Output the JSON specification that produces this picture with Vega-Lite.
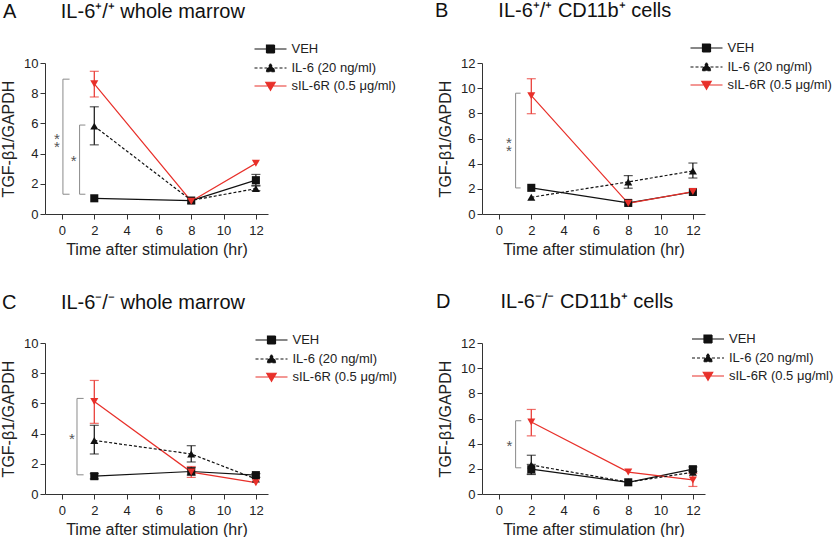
{
  "$schema": "https://vega.github.io/schema/vega-lite/v6.json",
  "padding": {"left": 0, "top": 0, "right": 0, "bottom": 0},
  "background": "white",
  "config": {
    "font": "Liberation Sans",
    "view": {"stroke": null},
    "axis": {"grid": false, "labelOverlap": false, "format": "d", "labelFontSize": 13, "titleFontSize": 16, "titleFontWeight": "normal", "tickSize": 5, "domainColor": "#333", "tickColor": "#333", "labelColor": "#222", "titleColor": "#222", "domainWidth": 1, "tickWidth": 1},
    "axisX": {"labelPadding": 5, "titlePadding": 4},
    "axisY": {"labelPadding": 2, "titlePadding": 7},
    "title": {"fontSize": 20, "fontWeight": "normal", "anchor": "start", "frame": "group", "color": "#111", "offset": 21},
    "legend": {"labelFontSize": 13, "labelColor": "#222", "symbolSize": 100, "rowPadding": 4, "labelOffset": 14.5, "padding": 0}
  },
  "datasets": {
    "all": [
      {"p":"A","k":"pt","s":"VEH","t":2,"v":1.04},
      {"p":"A","k":"pt","s":"VEH","t":8,"v":0.89},
      {"p":"A","k":"pt","s":"VEH","t":12,"v":2.24,"lo":1.9,"hi":2.62},
      {"p":"A","k":"pt","s":"IL-6 (20 ng/ml)","t":2,"v":5.82,"lo":4.58,"hi":7.1},
      {"p":"A","k":"pt","s":"IL-6 (20 ng/ml)","t":8,"v":0.9},
      {"p":"A","k":"pt","s":"IL-6 (20 ng/ml)","t":12,"v":1.68,"lo":1.55,"hi":1.85},
      {"p":"A","k":"pt","s":"sIL-6R (0.5 μg/ml)","t":2,"v":8.62,"lo":7.75,"hi":9.45},
      {"p":"A","k":"pt","s":"sIL-6R (0.5 μg/ml)","t":8,"v":0.85},
      {"p":"A","k":"pt","s":"sIL-6R (0.5 μg/ml)","t":12,"v":3.36},
      {"p":"A","k":"br","x":0.06,"x2":0.06,"y":1.31,"y2":8.93},
      {"p":"A","k":"br","x":0.06,"x2":0.47,"y":8.93,"y2":8.93},
      {"p":"A","k":"br","x":0.06,"x2":0.47,"y":1.31,"y2":1.31},
      {"p":"A","k":"br","x":1.09,"x2":1.09,"y":1.31,"y2":5.89},
      {"p":"A","k":"br","x":1.09,"x2":1.45,"y":5.89,"y2":5.89},
      {"p":"A","k":"br","x":1.09,"x2":1.45,"y":1.31,"y2":1.31},
      {"p":"A","k":"st","x":-0.31,"y":5.07,"lab":"*\n*"},
      {"p":"A","k":"st","x":0.72,"y":3.67,"lab":"*"},

      {"p":"B","k":"pt","s":"VEH","t":2,"v":2.08},
      {"p":"B","k":"pt","s":"VEH","t":8,"v":0.88},
      {"p":"B","k":"pt","s":"VEH","t":12,"v":1.75},
      {"p":"B","k":"pt","s":"IL-6 (20 ng/ml)","t":2,"v":1.33},
      {"p":"B","k":"pt","s":"IL-6 (20 ng/ml)","t":8,"v":2.55,"lo":2.05,"hi":3.05},
      {"p":"B","k":"pt","s":"IL-6 (20 ng/ml)","t":12,"v":3.42,"lo":2.86,"hi":4.05},
      {"p":"B","k":"pt","s":"sIL-6R (0.5 μg/ml)","t":2,"v":9.4,"lo":7.97,"hi":10.75},
      {"p":"B","k":"pt","s":"sIL-6R (0.5 μg/ml)","t":8,"v":0.85},
      {"p":"B","k":"pt","s":"sIL-6R (0.5 μg/ml)","t":12,"v":1.78},
      {"p":"B","k":"br","x":1.03,"x2":1.03,"y":2.07,"y2":9.6},
      {"p":"B","k":"br","x":1.03,"x2":1.34,"y":9.6,"y2":9.6},
      {"p":"B","k":"br","x":1.03,"x2":1.34,"y":2.07,"y2":2.07},
      {"p":"B","k":"st","x":0.62,"y":5.77,"lab":"*\n*"},

      {"p":"C","k":"pt","s":"VEH","t":2,"v":1.18,"lo":1.0,"hi":1.35},
      {"p":"C","k":"pt","s":"VEH","t":8,"v":1.49,"lo":1.25,"hi":1.75},
      {"p":"C","k":"pt","s":"VEH","t":12,"v":1.25,"lo":1.1,"hi":1.35},
      {"p":"C","k":"pt","s":"IL-6 (20 ng/ml)","t":2,"v":3.55,"lo":2.65,"hi":4.55},
      {"p":"C","k":"pt","s":"IL-6 (20 ng/ml)","t":8,"v":2.65,"lo":2.12,"hi":3.2},
      {"p":"C","k":"pt","s":"IL-6 (20 ng/ml)","t":12,"v":1.0},
      {"p":"C","k":"pt","s":"sIL-6R (0.5 μg/ml)","t":2,"v":6.12,"lo":4.68,"hi":7.52},
      {"p":"C","k":"pt","s":"sIL-6R (0.5 μg/ml)","t":8,"v":1.45,"lo":1.1,"hi":1.82},
      {"p":"C","k":"pt","s":"sIL-6R (0.5 μg/ml)","t":12,"v":0.75},
      {"p":"C","k":"br","x":0.93,"x2":0.93,"y":1.27,"y2":6.33},
      {"p":"C","k":"br","x":0.93,"x2":1.34,"y":6.33,"y2":6.33},
      {"p":"C","k":"br","x":0.93,"x2":1.34,"y":1.27,"y2":1.27},
      {"p":"C","k":"st","x":0.62,"y":3.77,"lab":"*"},

      {"p":"D","k":"pt","s":"VEH","t":2,"v":1.97,"lo":1.6,"hi":2.35},
      {"p":"D","k":"pt","s":"VEH","t":8,"v":0.93},
      {"p":"D","k":"pt","s":"VEH","t":12,"v":1.97,"lo":1.8,"hi":2.15},
      {"p":"D","k":"pt","s":"IL-6 (20 ng/ml)","t":2,"v":2.3,"lo":1.55,"hi":3.08},
      {"p":"D","k":"pt","s":"IL-6 (20 ng/ml)","t":8,"v":0.95},
      {"p":"D","k":"pt","s":"IL-6 (20 ng/ml)","t":12,"v":1.72},
      {"p":"D","k":"pt","s":"sIL-6R (0.5 μg/ml)","t":2,"v":5.72,"lo":4.62,"hi":6.72},
      {"p":"D","k":"pt","s":"sIL-6R (0.5 μg/ml)","t":8,"v":1.74},
      {"p":"D","k":"pt","s":"sIL-6R (0.5 μg/ml)","t":12,"v":1.12,"lo":0.6,"hi":1.65},
      {"p":"D","k":"br","x":1.03,"x2":1.03,"y":2.08,"y2":5.82},
      {"p":"D","k":"br","x":1.03,"x2":1.38,"y":5.82,"y2":5.82},
      {"p":"D","k":"br","x":1.03,"x2":1.38,"y":2.08,"y2":2.08},
      {"p":"D","k":"st","x":0.65,"y":4.0,"lab":"*"}
    ]
  },
  "data": {"name": "all"},
  "columns": 2,
  "bounds": "flush",
  "spacing": {"column": 214, "row": 129},
  "resolve": {"scale": {"color": "independent"}, "legend": {"color": "independent"}},
  "concat": [
    {
      "width": 223, "height": 151,
      "title": {"text": "A\u00a0\u00a0\u00a0\u00a0\u00a0\u00a0\u00a0\u00a0IL-6⁺/⁺ whole marrow", "dx": -42},
      "transform": [{"filter": "datum.p === 'A'"}],
      "layer": [
        {"transform": [{"filter": "datum.k === 'br'"}], "mark": {"type": "rule", "color": "#8a8a8a", "strokeWidth": 1},
         "encoding": {"x": {"field": "x", "type": "quantitative", "scale": {"domain": [-1.05, 12.75], "nice": false, "zero": false}, "axis": {"values": [0,2,4,6,8,10,12], "tickCount": 20, "title": "Time after stimulation (hr)"}}, "x2": {"field": "x2"},
                      "y": {"field": "y", "type": "quantitative", "scale": {"domain": [0, 10], "nice": false}, "axis": {"values": [0,2,4,6,8,10], "tickCount": 20, "title": "TGF-β1/GAPDH"}}, "y2": {"field": "y2"}}},
        {"transform": [{"filter": "datum.k === 'st'"}], "mark": {"type": "text", "fontSize": 15, "color": "#555", "lineBreak": "\n", "lineHeight": 8, "dy": 2},
         "encoding": {"x": {"field": "x", "type": "quantitative"}, "y": {"field": "y", "type": "quantitative"}, "text": {"field": "lab"}}},
        {"transform": [{"filter": "datum.k === 'pt' && isValid(datum.lo)"}], "mark": {"type": "rule", "strokeWidth": 1.2},
         "encoding": {"x": {"field": "t", "type": "quantitative"}, "y": {"field": "lo", "type": "quantitative"}, "y2": {"field": "hi"},
                      "color": {"field": "s", "type": "nominal", "scale": {"domain": ["VEH", "IL-6 (20 ng/ml)", "sIL-6R (0.5 μg/ml)"], "range": ["#111", "#111", "#e8302a"]}}}},
        {"transform": [{"filter": "datum.k === 'pt' && isValid(datum.lo)"}], "mark": {"type": "tick", "orient": "horizontal", "size": 9, "thickness": 1.2},
         "encoding": {"x": {"field": "t", "type": "quantitative"}, "y": {"field": "lo", "type": "quantitative"}, "color": {"field": "s", "type": "nominal"}}},
        {"transform": [{"filter": "datum.k === 'pt' && isValid(datum.lo)"}], "mark": {"type": "tick", "orient": "horizontal", "size": 9, "thickness": 1.2},
         "encoding": {"x": {"field": "t", "type": "quantitative"}, "y": {"field": "hi", "type": "quantitative"}, "color": {"field": "s", "type": "nominal"}}},
        {"transform": [{"filter": "datum.k === 'pt' && datum.s !== 'IL-6 (20 ng/ml)'"}], "mark": {"type": "line", "strokeWidth": 1.2},
         "encoding": {"x": {"field": "t", "type": "quantitative"}, "y": {"field": "v", "type": "quantitative"}, "color": {"field": "s", "type": "nominal"}}},
        {"transform": [{"filter": "datum.k === 'pt' && datum.s === 'IL-6 (20 ng/ml)'"}], "mark": {"type": "line", "strokeWidth": 1.2, "strokeDash": [3, 2]},
         "encoding": {"x": {"field": "t", "type": "quantitative"}, "y": {"field": "v", "type": "quantitative"}, "color": {"field": "s", "type": "nominal"}}},
        {"transform": [{"filter": "datum.k === 'pt' && datum.s === 'VEH'"}], "mark": {"type": "point", "filled": true, "opacity": 1, "size": 65, "shape": "square"},
         "encoding": {"x": {"field": "t", "type": "quantitative"}, "y": {"field": "v", "type": "quantitative"}, "color": {"field": "s", "type": "nominal"}}},
        {"transform": [{"filter": "datum.k === 'pt' && datum.s === 'IL-6 (20 ng/ml)'"}], "mark": {"type": "point", "filled": true, "opacity": 1, "size": 65, "shape": "triangle-up"},
         "encoding": {"x": {"field": "t", "type": "quantitative"}, "y": {"field": "v", "type": "quantitative"}, "color": {"field": "s", "type": "nominal"}}},
        {"transform": [{"filter": "datum.k === 'pt' && datum.s === 'sIL-6R (0.5 μg/ml)'"}], "mark": {"type": "point", "filled": true, "opacity": 1, "size": 65, "shape": "triangle-down"},
         "encoding": {"x": {"field": "t", "type": "quantitative"}, "y": {"field": "v", "type": "quantitative"},
                      "color": {"field": "s", "type": "nominal", "legend": {"orient": "none", "legendX": 219, "legendY": -20.5, "title": null,
                        "encoding": {"symbols": {
                          "shape": {"value": {"expr": "datum.value === 'VEH' ? 'M-3.2,0H3.2M-0.8,-0.8H0.8V0.8H-0.8Z' : datum.value === 'IL-6 (20 ng/ml)' ? 'M-3.2,0H3.2M0,-0.85L0.95,0.75H-0.95Z' : 'M-3.2,0H3.2M0,0.85L0.95,-0.75H-0.95Z'"}},
                          "strokeDash": {"value": {"expr": "datum.value === 'IL-6 (20 ng/ml)' ? [3,2] : [1,0]"}},
                          "strokeWidth": {"value": 1.2}, "opacity": {"value": 1}, "fillOpacity": {"value": 1}, "size": {"value": 100}}}}}}}
      ]
    },
    {
      "width": 223, "height": 151,
      "title": {"text": "B\u00a0\u00a0\u00a0\u00a0\u00a0\u00a0\u00a0\u00a0\u00a0IL-6⁺/⁺ CD11b⁺ cells", "dx": -47},
      "transform": [{"filter": "datum.p === 'B'"}],
      "layer": [
        {"transform": [{"filter": "datum.k === 'br'"}], "mark": {"type": "rule", "color": "#8a8a8a", "strokeWidth": 1},
         "encoding": {"x": {"field": "x", "type": "quantitative", "scale": {"domain": [-1.05, 12.75], "nice": false, "zero": false}, "axis": {"values": [0,2,4,6,8,10,12], "tickCount": 20, "title": "Time after stimulation (hr)"}}, "x2": {"field": "x2"},
                      "y": {"field": "y", "type": "quantitative", "scale": {"domain": [0, 12], "nice": false}, "axis": {"values": [0,2,4,6,8,10,12], "tickCount": 20, "title": "TGF-β1/GAPDH"}}, "y2": {"field": "y2"}}},
        {"transform": [{"filter": "datum.k === 'st'"}], "mark": {"type": "text", "fontSize": 15, "color": "#555", "lineBreak": "\n", "lineHeight": 8, "dy": 2},
         "encoding": {"x": {"field": "x", "type": "quantitative"}, "y": {"field": "y", "type": "quantitative"}, "text": {"field": "lab"}}},
        {"transform": [{"filter": "datum.k === 'pt' && isValid(datum.lo)"}], "mark": {"type": "rule", "strokeWidth": 1.2},
         "encoding": {"x": {"field": "t", "type": "quantitative"}, "y": {"field": "lo", "type": "quantitative"}, "y2": {"field": "hi"},
                      "color": {"field": "s", "type": "nominal", "scale": {"domain": ["VEH", "IL-6 (20 ng/ml)", "sIL-6R (0.5 μg/ml)"], "range": ["#111", "#111", "#e8302a"]}}}},
        {"transform": [{"filter": "datum.k === 'pt' && isValid(datum.lo)"}], "mark": {"type": "tick", "orient": "horizontal", "size": 9, "thickness": 1.2},
         "encoding": {"x": {"field": "t", "type": "quantitative"}, "y": {"field": "lo", "type": "quantitative"}, "color": {"field": "s", "type": "nominal"}}},
        {"transform": [{"filter": "datum.k === 'pt' && isValid(datum.lo)"}], "mark": {"type": "tick", "orient": "horizontal", "size": 9, "thickness": 1.2},
         "encoding": {"x": {"field": "t", "type": "quantitative"}, "y": {"field": "hi", "type": "quantitative"}, "color": {"field": "s", "type": "nominal"}}},
        {"transform": [{"filter": "datum.k === 'pt' && datum.s !== 'IL-6 (20 ng/ml)'"}], "mark": {"type": "line", "strokeWidth": 1.2},
         "encoding": {"x": {"field": "t", "type": "quantitative"}, "y": {"field": "v", "type": "quantitative"}, "color": {"field": "s", "type": "nominal"}}},
        {"transform": [{"filter": "datum.k === 'pt' && datum.s === 'IL-6 (20 ng/ml)'"}], "mark": {"type": "line", "strokeWidth": 1.2, "strokeDash": [3, 2]},
         "encoding": {"x": {"field": "t", "type": "quantitative"}, "y": {"field": "v", "type": "quantitative"}, "color": {"field": "s", "type": "nominal"}}},
        {"transform": [{"filter": "datum.k === 'pt' && datum.s === 'VEH'"}], "mark": {"type": "point", "filled": true, "opacity": 1, "size": 65, "shape": "square"},
         "encoding": {"x": {"field": "t", "type": "quantitative"}, "y": {"field": "v", "type": "quantitative"}, "color": {"field": "s", "type": "nominal"}}},
        {"transform": [{"filter": "datum.k === 'pt' && datum.s === 'IL-6 (20 ng/ml)'"}], "mark": {"type": "point", "filled": true, "opacity": 1, "size": 65, "shape": "triangle-up"},
         "encoding": {"x": {"field": "t", "type": "quantitative"}, "y": {"field": "v", "type": "quantitative"}, "color": {"field": "s", "type": "nominal"}}},
        {"transform": [{"filter": "datum.k === 'pt' && datum.s === 'sIL-6R (0.5 μg/ml)'"}], "mark": {"type": "point", "filled": true, "opacity": 1, "size": 65, "shape": "triangle-down"},
         "encoding": {"x": {"field": "t", "type": "quantitative"}, "y": {"field": "v", "type": "quantitative"},
                      "color": {"field": "s", "type": "nominal", "legend": {"orient": "none", "legendX": 218, "legendY": -21.5, "title": null,
                        "encoding": {"symbols": {
                          "shape": {"value": {"expr": "datum.value === 'VEH' ? 'M-3.2,0H3.2M-0.8,-0.8H0.8V0.8H-0.8Z' : datum.value === 'IL-6 (20 ng/ml)' ? 'M-3.2,0H3.2M0,-0.85L0.95,0.75H-0.95Z' : 'M-3.2,0H3.2M0,0.85L0.95,-0.75H-0.95Z'"}},
                          "strokeDash": {"value": {"expr": "datum.value === 'IL-6 (20 ng/ml)' ? [3,2] : [1,0]"}},
                          "strokeWidth": {"value": 1.2}, "opacity": {"value": 1}, "fillOpacity": {"value": 1}, "size": {"value": 100}}}}}}}
      ]
    },
    {
      "width": 223, "height": 151,
      "title": {"text": "C\u00a0\u00a0\u00a0\u00a0\u00a0\u00a0\u00a0\u00a0IL-6⁻/⁻ whole marrow", "dx": -43},
      "transform": [{"filter": "datum.p === 'C'"}],
      "layer": [
        {"transform": [{"filter": "datum.k === 'br'"}], "mark": {"type": "rule", "color": "#8a8a8a", "strokeWidth": 1},
         "encoding": {"x": {"field": "x", "type": "quantitative", "scale": {"domain": [-1.05, 12.75], "nice": false, "zero": false}, "axis": {"values": [0,2,4,6,8,10,12], "tickCount": 20, "title": "Time after stimulation (hr)"}}, "x2": {"field": "x2"},
                      "y": {"field": "y", "type": "quantitative", "scale": {"domain": [0, 10], "nice": false}, "axis": {"values": [0,2,4,6,8,10], "tickCount": 20, "title": "TGF-β1/GAPDH"}}, "y2": {"field": "y2"}}},
        {"transform": [{"filter": "datum.k === 'st'"}], "mark": {"type": "text", "fontSize": 15, "color": "#555", "lineBreak": "\n", "lineHeight": 8, "dy": 2},
         "encoding": {"x": {"field": "x", "type": "quantitative"}, "y": {"field": "y", "type": "quantitative"}, "text": {"field": "lab"}}},
        {"transform": [{"filter": "datum.k === 'pt' && isValid(datum.lo)"}], "mark": {"type": "rule", "strokeWidth": 1.2},
         "encoding": {"x": {"field": "t", "type": "quantitative"}, "y": {"field": "lo", "type": "quantitative"}, "y2": {"field": "hi"},
                      "color": {"field": "s", "type": "nominal", "scale": {"domain": ["VEH", "IL-6 (20 ng/ml)", "sIL-6R (0.5 μg/ml)"], "range": ["#111", "#111", "#e8302a"]}}}},
        {"transform": [{"filter": "datum.k === 'pt' && isValid(datum.lo)"}], "mark": {"type": "tick", "orient": "horizontal", "size": 9, "thickness": 1.2},
         "encoding": {"x": {"field": "t", "type": "quantitative"}, "y": {"field": "lo", "type": "quantitative"}, "color": {"field": "s", "type": "nominal"}}},
        {"transform": [{"filter": "datum.k === 'pt' && isValid(datum.lo)"}], "mark": {"type": "tick", "orient": "horizontal", "size": 9, "thickness": 1.2},
         "encoding": {"x": {"field": "t", "type": "quantitative"}, "y": {"field": "hi", "type": "quantitative"}, "color": {"field": "s", "type": "nominal"}}},
        {"transform": [{"filter": "datum.k === 'pt' && datum.s !== 'IL-6 (20 ng/ml)'"}], "mark": {"type": "line", "strokeWidth": 1.2},
         "encoding": {"x": {"field": "t", "type": "quantitative"}, "y": {"field": "v", "type": "quantitative"}, "color": {"field": "s", "type": "nominal"}}},
        {"transform": [{"filter": "datum.k === 'pt' && datum.s === 'IL-6 (20 ng/ml)'"}], "mark": {"type": "line", "strokeWidth": 1.2, "strokeDash": [3, 2]},
         "encoding": {"x": {"field": "t", "type": "quantitative"}, "y": {"field": "v", "type": "quantitative"}, "color": {"field": "s", "type": "nominal"}}},
        {"transform": [{"filter": "datum.k === 'pt' && datum.s === 'VEH'"}], "mark": {"type": "point", "filled": true, "opacity": 1, "size": 65, "shape": "square"},
         "encoding": {"x": {"field": "t", "type": "quantitative"}, "y": {"field": "v", "type": "quantitative"}, "color": {"field": "s", "type": "nominal"}}},
        {"transform": [{"filter": "datum.k === 'pt' && datum.s === 'IL-6 (20 ng/ml)'"}], "mark": {"type": "point", "filled": true, "opacity": 1, "size": 65, "shape": "triangle-up"},
         "encoding": {"x": {"field": "t", "type": "quantitative"}, "y": {"field": "v", "type": "quantitative"}, "color": {"field": "s", "type": "nominal"}}},
        {"transform": [{"filter": "datum.k === 'pt' && datum.s === 'sIL-6R (0.5 μg/ml)'"}], "mark": {"type": "point", "filled": true, "opacity": 1, "size": 65, "shape": "triangle-down"},
         "encoding": {"x": {"field": "t", "type": "quantitative"}, "y": {"field": "v", "type": "quantitative"},
                      "color": {"field": "s", "type": "nominal", "legend": {"orient": "none", "legendX": 220, "legendY": -9.5, "title": null,
                        "encoding": {"symbols": {
                          "shape": {"value": {"expr": "datum.value === 'VEH' ? 'M-3.2,0H3.2M-0.8,-0.8H0.8V0.8H-0.8Z' : datum.value === 'IL-6 (20 ng/ml)' ? 'M-3.2,0H3.2M0,-0.85L0.95,0.75H-0.95Z' : 'M-3.2,0H3.2M0,0.85L0.95,-0.75H-0.95Z'"}},
                          "strokeDash": {"value": {"expr": "datum.value === 'IL-6 (20 ng/ml)' ? [3,2] : [1,0]"}},
                          "strokeWidth": {"value": 1.2}, "opacity": {"value": 1}, "fillOpacity": {"value": 1}, "size": {"value": 100}}}}}}}
      ]
    },
    {
      "width": 223, "height": 151,
      "title": {"text": "D\u00a0\u00a0\u00a0\u00a0\u00a0\u00a0\u00a0\u00a0\u00a0IL-6⁻/⁻ CD11b⁺ cells", "dx": -46},
      "transform": [{"filter": "datum.p === 'D'"}],
      "layer": [
        {"transform": [{"filter": "datum.k === 'br'"}], "mark": {"type": "rule", "color": "#8a8a8a", "strokeWidth": 1},
         "encoding": {"x": {"field": "x", "type": "quantitative", "scale": {"domain": [-1.05, 12.75], "nice": false, "zero": false}, "axis": {"values": [0,2,4,6,8,10,12], "tickCount": 20, "title": "Time after stimulation (hr)"}}, "x2": {"field": "x2"},
                      "y": {"field": "y", "type": "quantitative", "scale": {"domain": [0, 12], "nice": false}, "axis": {"values": [0,2,4,6,8,10,12], "tickCount": 20, "title": "TGF-β1/GAPDH"}}, "y2": {"field": "y2"}}},
        {"transform": [{"filter": "datum.k === 'st'"}], "mark": {"type": "text", "fontSize": 15, "color": "#555", "lineBreak": "\n", "lineHeight": 8, "dy": 2},
         "encoding": {"x": {"field": "x", "type": "quantitative"}, "y": {"field": "y", "type": "quantitative"}, "text": {"field": "lab"}}},
        {"transform": [{"filter": "datum.k === 'pt' && isValid(datum.lo)"}], "mark": {"type": "rule", "strokeWidth": 1.2},
         "encoding": {"x": {"field": "t", "type": "quantitative"}, "y": {"field": "lo", "type": "quantitative"}, "y2": {"field": "hi"},
                      "color": {"field": "s", "type": "nominal", "scale": {"domain": ["VEH", "IL-6 (20 ng/ml)", "sIL-6R (0.5 μg/ml)"], "range": ["#111", "#111", "#e8302a"]}}}},
        {"transform": [{"filter": "datum.k === 'pt' && isValid(datum.lo)"}], "mark": {"type": "tick", "orient": "horizontal", "size": 9, "thickness": 1.2},
         "encoding": {"x": {"field": "t", "type": "quantitative"}, "y": {"field": "lo", "type": "quantitative"}, "color": {"field": "s", "type": "nominal"}}},
        {"transform": [{"filter": "datum.k === 'pt' && isValid(datum.lo)"}], "mark": {"type": "tick", "orient": "horizontal", "size": 9, "thickness": 1.2},
         "encoding": {"x": {"field": "t", "type": "quantitative"}, "y": {"field": "hi", "type": "quantitative"}, "color": {"field": "s", "type": "nominal"}}},
        {"transform": [{"filter": "datum.k === 'pt' && datum.s !== 'IL-6 (20 ng/ml)'"}], "mark": {"type": "line", "strokeWidth": 1.2},
         "encoding": {"x": {"field": "t", "type": "quantitative"}, "y": {"field": "v", "type": "quantitative"}, "color": {"field": "s", "type": "nominal"}}},
        {"transform": [{"filter": "datum.k === 'pt' && datum.s === 'IL-6 (20 ng/ml)'"}], "mark": {"type": "line", "strokeWidth": 1.2, "strokeDash": [3, 2]},
         "encoding": {"x": {"field": "t", "type": "quantitative"}, "y": {"field": "v", "type": "quantitative"}, "color": {"field": "s", "type": "nominal"}}},
        {"transform": [{"filter": "datum.k === 'pt' && datum.s === 'VEH'"}], "mark": {"type": "point", "filled": true, "opacity": 1, "size": 65, "shape": "square"},
         "encoding": {"x": {"field": "t", "type": "quantitative"}, "y": {"field": "v", "type": "quantitative"}, "color": {"field": "s", "type": "nominal"}}},
        {"transform": [{"filter": "datum.k === 'pt' && datum.s === 'IL-6 (20 ng/ml)'"}], "mark": {"type": "point", "filled": true, "opacity": 1, "size": 65, "shape": "triangle-up"},
         "encoding": {"x": {"field": "t", "type": "quantitative"}, "y": {"field": "v", "type": "quantitative"}, "color": {"field": "s", "type": "nominal"}}},
        {"transform": [{"filter": "datum.k === 'pt' && datum.s === 'sIL-6R (0.5 μg/ml)'"}], "mark": {"type": "point", "filled": true, "opacity": 1, "size": 65, "shape": "triangle-down"},
         "encoding": {"x": {"field": "t", "type": "quantitative"}, "y": {"field": "v", "type": "quantitative"},
                      "color": {"field": "s", "type": "nominal", "legend": {"orient": "none", "legendX": 219.5, "legendY": -10.5, "title": null,
                        "encoding": {"symbols": {
                          "shape": {"value": {"expr": "datum.value === 'VEH' ? 'M-3.2,0H3.2M-0.8,-0.8H0.8V0.8H-0.8Z' : datum.value === 'IL-6 (20 ng/ml)' ? 'M-3.2,0H3.2M0,-0.85L0.95,0.75H-0.95Z' : 'M-3.2,0H3.2M0,0.85L0.95,-0.75H-0.95Z'"}},
                          "strokeDash": {"value": {"expr": "datum.value === 'IL-6 (20 ng/ml)' ? [3,2] : [1,0]"}},
                          "strokeWidth": {"value": 1.2}, "opacity": {"value": 1}, "fillOpacity": {"value": 1}, "size": {"value": 100}}}}}}}
      ]
    }
  ]
}
